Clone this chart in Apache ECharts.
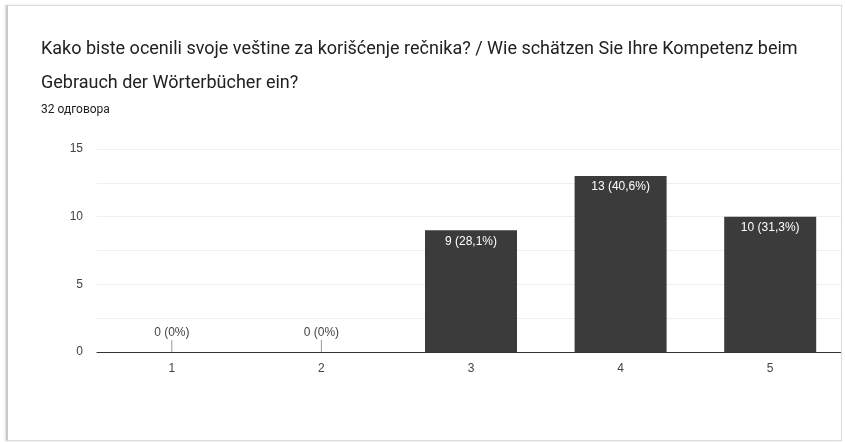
<!DOCTYPE html>
<html><head><meta charset="utf-8">
<script src="https://cdn.jsdelivr.net/npm/echarts@6/dist/echarts.min.js"></script>
<style>
html,body{margin:0;padding:0;background:#fff;overflow:hidden;}
#main{position:absolute;left:0;top:0;width:845px;height:442px;}
#card{position:absolute;left:6px;top:5px;width:833px;height:434px;border:1px solid #dcdcdc;border-left:2px solid #c8c8c8;box-shadow:-1px 0 2px rgba(0,0,0,0.15);z-index:5;pointer-events:none;}
#mask{position:absolute;left:842px;top:0;width:10px;height:442px;background:#fff;z-index:4;}
</style></head>
<body>
<div id="main"></div>
<div id="mask"></div>
<div id="card"></div>
<script>
var titleLines = ['Kako biste ocenili svoje veštine za korišćenje rečnika? / Wie schätzen Sie Ihre Kompetenz beim', 'Gebrauch der Wörterbücher ein?'];
var subtitle = '32 одговора';
var categories = ['1', '2', '3', '4', '5'];
var counts = [0, 0, 9, 13, 10];
var percents = ['0%', '0%', '28,1%', '40,6%', '31,3%'];
var yTicks = [0, 5, 10, 15];

var chartFont = '"Liberation Sans", Arial, sans-serif';
var titleFont = 'Roboto, Arial, sans-serif';

var chart = echarts.init(document.getElementById('main'));
var barData = counts.map(function (v, i) {
  var zero = v === 0;
  return {
    value: v,
    label: {
      show: true,
      formatter: v + ' (' + percents[i] + ')',
      position: zero ? 'top' : 'insideTop',
      distance: zero ? 13 : 5,
      color: zero ? '#444' : '#fff',
      fontSize: 12,
      fontFamily: chartFont
    }
  };
});
var stemData = [];
counts.forEach(function (v, i) { if (v === 0) stemData.push([i, v]); });

chart.setOption({
  animation: false,
  title: [{
    text: titleLines.join('\n'),
    left: 41, top: 32, padding: 0,
    textStyle: {fontSize: 18, fontWeight: 'normal', color: '#202124', fontFamily: titleFont, lineHeight: 34}
  }, {
    text: subtitle,
    left: 41, top: 103, padding: 0,
    textStyle: {fontSize: 12, fontWeight: 'normal', color: '#202124', fontFamily: titleFont, lineHeight: 14}
  }],
  grid: {left: 97, right: 0, top: 149, bottom: 90},
  xAxis: {
    type: 'category',
    data: categories,
    axisLine: {lineStyle: {color: '#333', width: 1}},
    axisTick: {show: false},
    axisLabel: {color: '#444', fontSize: 12, margin: 11, fontFamily: chartFont}
  },
  yAxis: {
    type: 'value',
    min: 0, max: 15, interval: 2.5,
    axisLine: {show: false},
    axisTick: {show: false},
    splitLine: {lineStyle: {color: '#efefef', width: 1}},
    axisLabel: {
      color: '#444', fontSize: 12, margin: 14, fontFamily: chartFont,
      formatter: function (val) { return yTicks.indexOf(val) >= 0 ? String(val) : ''; }
    }
  },
  series: [{
    type: 'bar',
    data: barData,
    barWidth: '61.5%',
    itemStyle: {color: '#3b3b3b'}
  }, {
    type: 'custom',
    data: stemData,
    renderItem: function (params, api) {
      var p = api.coord([api.value(0), api.value(1)]);
      return {
        type: 'line',
        shape: {x1: p[0], y1: p[1], x2: p[0], y2: p[1] - 12},
        style: {stroke: '#999', lineWidth: 1}
      };
    },
    z: 5
  }]
});
</script>
</body></html>
